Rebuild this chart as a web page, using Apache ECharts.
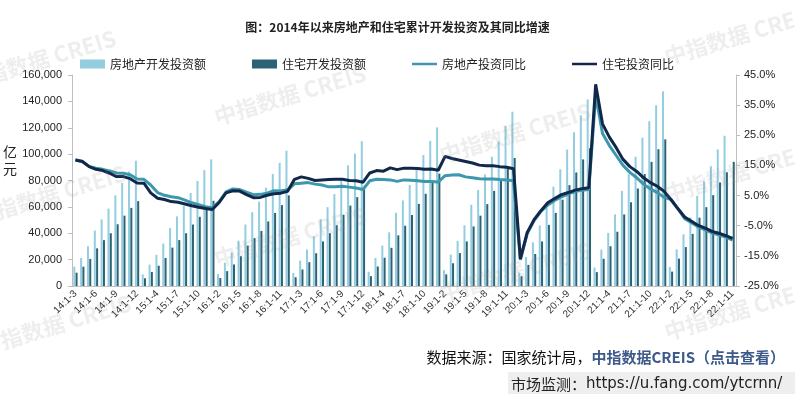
<!DOCTYPE html>
<html><head><meta charset="utf-8">
<script src="https://cdn.jsdelivr.net/npm/echarts@6/dist/echarts.min.js"></script>
<style>html,body{margin:0;padding:0;background:#fff}#c{width:795px;height:394px}</style>
</head><body><div id="c"></div>
<script>
const categories = [
 '14:1-3','14:1-4','14:1-5','14:1-6','14:1-7','14:1-8','14:1-9','14:1-10','14:1-11','14:1-12',
 '15:1-2','15:1-3','15:1-4','15:1-5','15:1-6','15:1-7','15:1-8','15:1-9','15:1-10','15:1-11','15:1-12',
 '16:1-2','16:1-3','16:1-4','16:1-5','16:1-6','16:1-7','16:1-8','16:1-9','16:1-10','16:1-11','16:1-12',
 '17:1-2','17:1-3','17:1-4','17:1-5','17:1-6','17:1-7','17:1-8','17:1-9','17:1-10','17:1-11','17:1-12',
 '18:1-2','18:1-3','18:1-4','18:1-5','18:1-6','18:1-7','18:1-8','18:1-9','18:1-10','18:1-11','18:1-12',
 '19:1-2','19:1-3','19:1-4','19:1-5','19:1-6','19:1-7','19:1-8','19:1-9','19:1-10','19:1-11','19:1-12',
 '20:1-2','20:1-3','20:1-4','20:1-5','20:1-6','20:1-7','20:1-8','20:1-9','20:1-10','20:1-11','20:1-12',
 '21:1-2','21:1-3','21:1-4','21:1-5','21:1-6','21:1-7','21:1-8','21:1-9','21:1-10','21:1-11','21:1-12',
 '22:1-2','22:1-3','22:1-4','22:1-5','22:1-6','22:1-7','22:1-8','22:1-9','22:1-10','22:1-11'
];
// 房地产开发投资额（亿元）
const totalInvest = [
 14656,21228,30148,42019,50516,58703,68751,78058,86846,95036,
 8786,16214,23669,32167,43955,52759,60768,70535,79640,87911,95979,
 9053,17677,25390,34400,46631,55932,64023,74598,84882,93387,102581,
 9854,19292,27732,37660,50610,59761,69694,80644,91533,100387,109799,
 10830,21291,30592,40718,55531,64868,76519,88648,99325,110083,120264,
 12090,23803,34217,46075,61609,72843,84589,98008,109603,121265,132194,
 10115,21963,33103,45920,62780,75325,88454,103484,116556,129492,141443,
 13986,27576,40240,54318,72179,84895,98007,112517,124934,137086,147602,
 14499,27765,39154,52134,68314,79462,90809,103559,113945,null
];
// 住宅开发投资额（亿元）
const resInvest = [
 10083,14630,20549,28556,34780,40000,46795,53337,59240,64352,
 5861,10644,15393,21263,29116,34824,40001,46588,52476,58043,64595,
 6013,11270,16318,22582,30660,36320,41760,48964,55415,61351,68704,
 6638,12525,18072,24842,33790,40061,46104,54058,60961,67422,75148,
 7470,14800,21437,28971,38398,45684,53837,62269,69957,78118,85192,
 8830,17249,24971,33774,45167,53347,62110,72146,80619,89471,97071,
 7417,16007,24251,33795,46350,55428,65454,76470,86089,95980,104446,
 10525,20624,30173,41148,54244,63486,73915,84820,94126,103724,111173,
 10915,20761,29528,39521,51804,59794,68878,78556,86237,94165
];
// 房地产投资同比（%）
const totalYoY = [
 16.8,16.4,14.7,14.1,13.7,13.2,12.5,12.4,11.9,10.5,
 10.4,8.5,6.0,5.1,4.6,4.3,3.5,2.6,2.0,1.3,1.0,
 3.0,6.2,7.2,7.0,6.1,5.3,5.4,5.8,6.6,6.5,6.9,
 8.9,9.1,9.3,8.8,8.5,7.9,7.9,8.1,7.8,7.5,7.0,
 9.9,10.4,10.3,10.2,9.7,10.2,10.1,9.9,9.7,9.7,9.5,
 11.6,11.8,11.9,11.2,10.9,10.6,10.5,10.5,10.3,10.2,9.9,
 -16.3,-7.7,-3.3,-0.3,1.9,3.4,4.6,5.6,6.3,6.8,7.0,
 38.3,25.6,21.6,18.3,15.0,12.7,10.9,8.8,7.2,6.0,4.4,
 3.7,0.7,-2.7,-4.0,-5.4,-6.4,-7.4,-8.0,-8.8,-9.8
];
// 住宅投资同比（%）
const resYoY = [
 16.8,16.3,14.6,13.7,13.3,12.4,11.3,11.3,10.6,9.2,
 9.1,5.9,4.1,3.7,3.0,2.8,2.2,1.6,1.1,0.7,0.4,
 2.7,5.9,6.6,6.5,5.3,4.3,4.4,5.1,5.6,5.8,6.4,
 10.4,11.2,10.7,10.0,10.2,10.3,10.4,10.4,10.0,9.9,9.4,
 12.5,13.3,13.1,14.2,13.6,14.1,14.1,14.0,13.7,13.8,13.4,
 18.0,17.3,16.8,16.3,15.8,15.1,14.9,14.9,14.6,14.4,13.9,
 -16.0,-7.2,-3.0,0.0,2.6,4.0,5.3,6.0,6.8,7.3,7.6,
 41.9,28.8,24.4,20.9,17.0,14.6,13.0,10.9,9.3,8.1,6.4,
 3.7,0.7,-2.1,-3.5,-4.9,-5.8,-6.9,-7.5,-8.3,-9.2
];
const leftTicks = [0,20000,40000,60000,80000,100000,120000,140000,160000];
const rightTicks = [-25,-15,-5,5,15,25,35,45];
const seriesNames = ['房地产开发投资额','住宅开发投资额','房地产投资同比','住宅投资同比'];

const chart = echarts.init(document.getElementById('c'));
const cjk = "'Noto Sans CJK SC','Noto Sans',sans-serif";
const wmPos = [[40,60],[290,95],[515,133],[740,35],[740,172],[50,195],[290,237],[515,272],[740,310],[55,325]];
const graphics = wmPos.map(p => ({
  type:'text', x:p[0], y:p[1], rotation:0.29, z:100, silent:true,
  style:{text:'中指数据 CREIS', fill:'rgba(140,140,140,0.15)', font:"bold 22px 'Noto Sans CJK SC',sans-serif", align:'center', verticalAlign:'middle'}
}));
graphics.push({type:'text', left:3, top:143, style:{text:'亿\n元', fill:'#222', font:"14px "+cjk, lineHeight:17}});
graphics.push({type:'rect', shape:{x:508,y:372,width:287,height:22}, style:{fill:'#eeeeee'}, z:1});
graphics.push({type:'text', x:511, y:384, z:2, style:{
  text:'{a|市场监测：}{b|https://u.fang.com/ytcrnn/}', verticalAlign:'middle',
  rich:{a:{fill:'#222', font:"15px "+cjk}, b:{fill:'#222', font:"15px 'DejaVu Sans',sans-serif"}}
}});
graphics.push({type:'text', x:785, y:357, z:2, style:{
  text:'{a|数据来源：国家统计局，}{b|中指数据CREIS（点击查看）}', align:'right', verticalAlign:'middle',
  rich:{a:{fill:'#111', font:"15px "+cjk}, b:{fill:'#3e5a8a', font:"bold 15px "+cjk}}
}});

const linePath = 'path://M0,0L30,0L30,3L0,3Z';
chart.setOption({
  animation:false,
  title:{text:'图：2014年以来房地产和住宅累计开发投资及其同比增速', left:'center', top:16,
    textStyle:{fontSize:12, fontWeight:'bold', color:'#222', fontFamily:cjk}},
  legend:{left:75, top:53, itemGap:46, itemWidth:25, itemHeight:9,
    textStyle:{fontSize:12, color:'#222', fontFamily:cjk},
    data:[{name:seriesNames[0],icon:'rect'},{name:seriesNames[1],icon:'rect'},
          {name:seriesNames[2],icon:linePath},{name:seriesNames[3],icon:linePath}]},
  grid:{left:72, right:59, top:75, bottom:108},
  xAxis:{type:'category', data:categories,
    axisLine:{lineStyle:{color:'#bfbfbf'}}, axisTick:{show:false},
    axisLabel:{interval:2, rotate:45, fontSize:10, color:'#333', margin:6, fontFamily:'Liberation Sans'}},
  yAxis:[
    {type:'value', min:leftTicks[0], max:leftTicks[leftTicks.length-1], interval:20000,
     axisLine:{show:true, lineStyle:{color:'#bfbfbf'}}, axisTick:{show:true, length:4, lineStyle:{color:'#bfbfbf'}},
     splitLine:{show:false}, axisLabel:{fontSize:11, color:'#222', margin:10, fontFamily:'Liberation Sans'}},
    {type:'value', min:rightTicks[0], max:rightTicks[rightTicks.length-1], interval:10,
     axisLine:{show:true, lineStyle:{color:'#bfbfbf'}}, axisTick:{show:true, length:4, lineStyle:{color:'#bfbfbf'}},
     splitLine:{show:false}, axisLabel:{fontSize:11, color:'#222', margin:8, fontFamily:'Liberation Sans',
       formatter:v=>v.toFixed(1)+'%'}}
  ],
  series:[
    {name:seriesNames[0], type:'bar', data:totalInvest, barWidth:2, barGap:'15%', itemStyle:{color:'#92cde0'}},
    {name:seriesNames[1], type:'bar', data:resInvest, barWidth:2, itemStyle:{color:'#2b6274'}},
    {name:seriesNames[2], type:'line', yAxisIndex:1, data:totalYoY, symbol:'none', lineStyle:{width:3, color:'#3d97ad'}, itemStyle:{color:'#3d97ad'}},
    {name:seriesNames[3], type:'line', yAxisIndex:1, data:resYoY, symbol:'none', lineStyle:{width:3, color:'#11284a'}, itemStyle:{color:'#11284a'}}
  ],
  graphic:graphics
});
</script>
</body></html>
